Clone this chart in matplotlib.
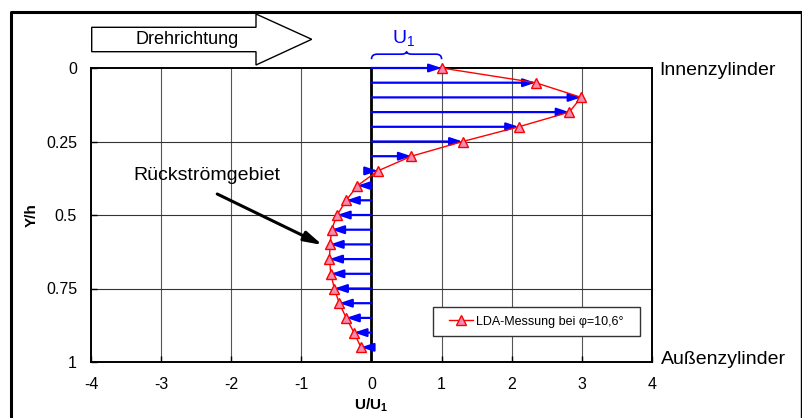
import matplotlib
matplotlib.use('Agg')

import matplotlib.pyplot as plt
import matplotlib.transforms as mtransforms
from matplotlib.path import Path
from matplotlib.patches import PathPatch, Polygon, Rectangle
from matplotlib.lines import Line2D

plt.rcParams['font.family'] = 'Liberation Sans'
plt.rcParams['mathtext.fontset'] = 'custom'
plt.rcParams['mathtext.rm'] = 'Liberation Sans'
plt.rcParams['mathtext.it'] = 'Liberation Sans:italic'
plt.rcParams['mathtext.bf'] = 'Liberation Sans:bold'

# LDA profile across the gap, phi = 10.6 deg
y_h = [0.00, 0.05, 0.10, 0.15, 0.20, 0.25, 0.30, 0.35, 0.40, 0.45,
       0.50, 0.55, 0.60, 0.65, 0.70, 0.75, 0.80, 0.85, 0.90, 0.95]
u_u1 = [1.00, 2.34, 2.99, 2.82, 2.10, 1.30, 0.57, 0.09, -0.20, -0.36,
        -0.49, -0.57, -0.59, -0.60, -0.58, -0.53, -0.46, -0.36, -0.25, -0.15]

x_ticks = [-4, -3, -2, -1, 0, 1, 2, 3, 4]
y_ticks = [0, 0.25, 0.5, 0.75, 1]
y_tick_labels = ['0', '0.25', '0.5', '0.75', '1']

W, H = 803, 418


def fx(px):
    return px / W


def fy(py):
    return 1 - py / H


fig = plt.figure(figsize=(W / 100, H / 100), dpi=100)
ax = fig.add_axes([fx(91), fy(362), 561 / W, 294 / H])

ax.set_xlim(-4, 4)
ax.set_ylim(1, 0)
ax.set_xticks(x_ticks)
ax.set_xticklabels([str(t) for t in x_ticks])
ax.set_yticks(y_ticks)
ax.set_yticklabels(y_tick_labels)
ax.tick_params(direction='in', length=4, width=1, labelsize=11.5)
ax.tick_params(axis='y', pad=10)
ax.tick_params(axis='x', pad=11)
for sp in ax.spines.values():
    sp.set_linewidth(1.4)

for xv in x_ticks[1:-1]:
    ax.axvline(xv, color='#555555', lw=0.8, zorder=1)
for yv in y_ticks[1:-1]:
    ax.axhline(yv, color='#333333', lw=0.8, zorder=1)
ax.axvline(0, color='black', lw=2.0, zorder=2)

# velocity vectors from the zero line
for y, u in zip(y_h, u_u1):
    ax.annotate('', xy=(u, y), xytext=(0, y),
                arrowprops=dict(arrowstyle='-|>,head_length=0.6,head_width=0.2',
                                color='#0000ff', lw=1.6, shrinkA=0, shrinkB=0,
                                mutation_scale=12),
                zorder=3, annotation_clip=False)

ax.plot(u_u1, y_h, color='#ff0000', lw=1, marker='^', markersize=7.5,
        markerfacecolor='#f28cb1', markeredgecolor='#ff0000',
        markeredgewidth=1, zorder=5, clip_on=False)

ax.set_xlabel(r'$\mathbf{U/U_1}$', fontsize=11)
ax.xaxis.set_label_coords(0.5, -0.146)
ax.xaxis.label.set_va('center')
ax.set_ylabel('Y/h', fontsize=11, fontweight='bold')
ax.yaxis.set_label_coords(-0.105, 0.5)
ax.yaxis.label.set_va('center')

# legend in its own framed box
box = Rectangle((0.6096, 0.0884), 0.3690, 0.0986, transform=ax.transAxes,
                facecolor='white', edgecolor='#333333', lw=1, zorder=6)
ax.add_patch(box)
handle = Line2D([], [], color='#ff0000', lw=1, marker='^', markersize=7.5,
                markerfacecolor='#f28cb1', markeredgecolor='#ff0000')
leg = ax.legend([handle], ['LDA-Messung bei φ=10,6°'], loc='center',
                bbox_to_anchor=(0.6096 + 0.3690 / 2, 0.0884 + 0.0986 / 2),
                frameon=False, fontsize=9, handlelength=1.9, handletextpad=0.3,
                borderpad=0, borderaxespad=0)
leg.set_zorder(7)

# curly brace marking U1 above the top wall
bt = mtransforms.blended_transform_factory(ax.transData, ax.transAxes)
y0, y1, y2 = 1.030, 1.047, 1.056
verts = [(0, y0), (0, y1), (0.08, y1), (0.42, y1), (0.5, y1), (0.5, y2),
         (0.5, y1), (0.58, y1), (0.92, y1), (1, y1), (1, y0)]
codes = [Path.MOVETO, Path.CURVE3, Path.CURVE3, Path.LINETO, Path.CURVE3, Path.CURVE3,
         Path.CURVE3, Path.CURVE3, Path.LINETO, Path.CURVE3, Path.CURVE3]
ax.add_patch(PathPatch(Path(verts, codes), transform=bt, fill=False,
                       edgecolor='#0000ff', lw=1.2, clip_on=False))
ax.text(0.46, 1.102, r'U$_1$', transform=bt, color='#0000ff', fontsize=14,
        ha='center', va='center')

ax.text(4.11, 0.007, 'Innenzylinder', fontsize=14, ha='left', va='center',
        clip_on=False)
ax.text(4.13, 0.993, 'Außenzylinder', fontsize=14, ha='left', va='center',
        clip_on=False)

ax.annotate('', xy=(-0.70, 0.602), xytext=(-2.2, 0.4286),
            arrowprops=dict(arrowstyle='-|>,head_length=0.9,head_width=0.25',
                            color='black', lw=2.2, shrinkA=0, shrinkB=0,
                            mutation_scale=12), zorder=4)
ax.text(-2.35, 0.364, 'Rückströmgebiet', fontsize=14, ha='center', va='center')

# rotation direction block arrow
pts = [(91.7, 27.3), (256, 27.3), (256, 14), (311.7, 39.3), (256, 65),
       (256, 51.7), (91.7, 51.7)]
fig.patches.append(Polygon([(fx(a), fy(b)) for a, b in pts], closed=True,
                           transform=fig.transFigure, facecolor='white',
                           edgecolor='black', lw=1))
fig.text(fx(187), fy(40), 'Drehrichtung', fontsize=13, ha='center', va='center')

# outer frame
fig.lines.append(Line2D([fx(11), fx(11), fx(801)], [0, fy(12), fy(12)],
                        transform=fig.transFigure, color='black', lw=2.2))
fig.lines.append(Line2D([fx(801), fx(801)], [fy(12), 0],
                        transform=fig.transFigure, color='black', lw=1))

fig.savefig('out.png', dpi=100, facecolor='white')
